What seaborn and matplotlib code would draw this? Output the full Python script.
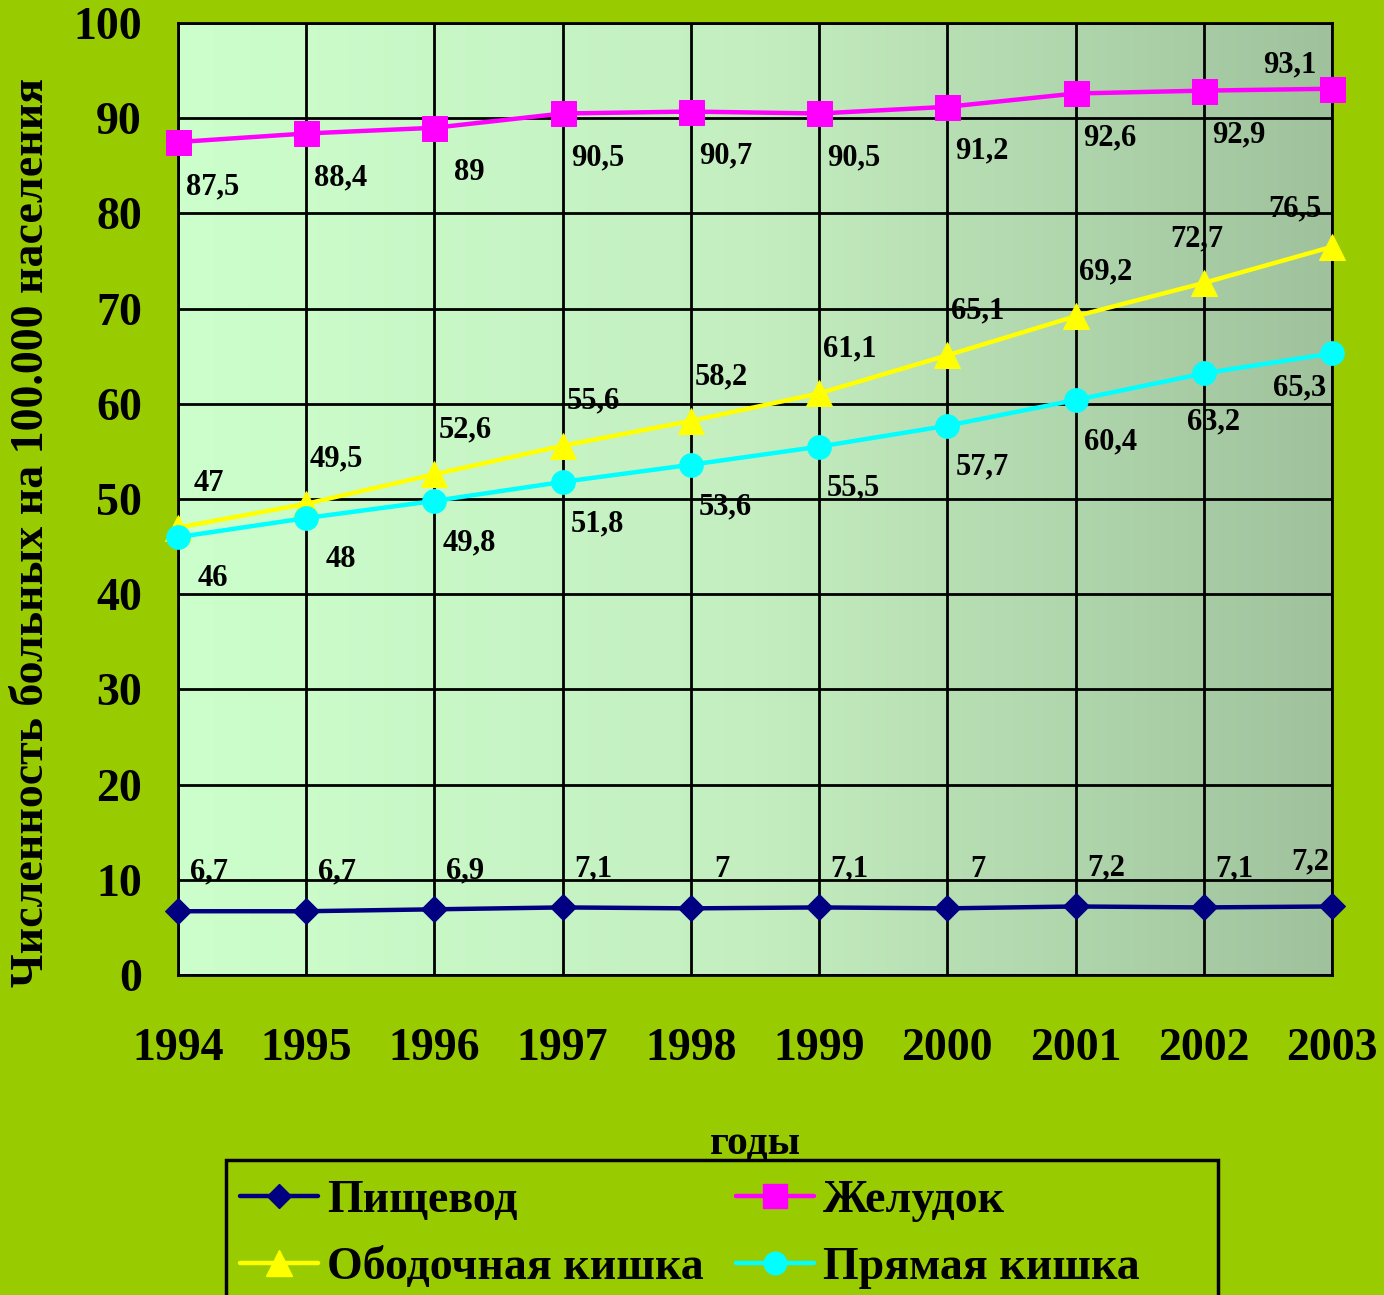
"""Incidence per 100,000 population, 1994-2003 (line chart)."""

import matplotlib

matplotlib.use("Agg")
import matplotlib.pyplot as plt
import numpy as np
import pandas as pd
import seaborn as sns
from matplotlib.colors import LinearSegmentedColormap
from matplotlib.lines import Line2D
from matplotlib.patches import Rectangle

years = [1994, 1995, 1996, 1997, 1998, 1999, 2000, 2001, 2002, 2003]
esophagus = [6.7, 6.7, 6.9, 7.1, 7.0, 7.1, 7.0, 7.2, 7.1, 7.2]
stomach = [87.5, 88.4, 89.0, 90.5, 90.7, 90.5, 91.2, 92.6, 92.9, 93.1]
colon = [47.0, 49.5, 52.6, 55.6, 58.2, 61.1, 65.1, 69.2, 72.7, 76.5]
rectum = [46.0, 48.0, 49.8, 51.8, 53.6, 55.5, 57.7, 60.4, 63.2, 65.3]
series_names = ["Пищевод", "Желудок", "Ободочная кишка", "Прямая кишка"]

BG = "#99CC00"

# style per series: color, marker, marker size, default label offset (points)
styles = {
    "Пищевод": ("#000080", "D", 13, (22, 28)),
    "Желудок": ("#FF00FF", "s", 18, (25, -32)),
    "Ободочная кишка": ("#FFFF00", "^", 19, (22, 32)),
    "Прямая кишка": ("#00FFFF", "o", 17, (25, -30)),
}
# labels near the right edge sit elsewhere
label_shift = {
    ("Пищевод", 2003): (-16, 32),
    ("Желудок", 2003): (-30, 17),
    ("Ободочная кишка", 2002): (-5, 32),
    ("Ободочная кишка", 2003): (-27, 27),
    ("Прямая кишка", 2002): (7, -35),
    ("Прямая кишка", 2003): (-23, -25),
}

df = pd.DataFrame(
    {
        "year": years * 4,
        "value": esophagus + stomach + colon + rectum,
        "site": [n for n in series_names for _ in years],
    }
)

sns.set_style("white")
plt.rcParams["font.family"] = ["Liberation Serif", "DejaVu Serif"]
plt.rcParams["font.weight"] = "bold"
for key in ["text.color", "axes.labelcolor", "xtick.color", "ytick.color"]:
    plt.rcParams[key] = "black"

fig = plt.figure(figsize=(13.84, 12.95), dpi=100, facecolor=BG)
ax = fig.add_axes([0.1286, 0.2471, 0.8338, 0.7351])

# plot area gradient
cmap = LinearSegmentedColormap.from_list("bg", ["#CCFFCC", "#C4EEC0", "#9FC29C"])
grad = np.linspace(0, 1, 256).reshape(1, -1)
ax.imshow(grad, extent=[1994, 2003, 0, 100], aspect="auto", cmap=cmap, zorder=0)

for name in series_names:
    color, marker, msize, _ = styles[name]
    sub = df[df["site"] == name]
    sns.lineplot(
        data=sub, x="year", y="value", ax=ax, color=color, marker=marker,
        markersize=msize, markeredgecolor=color, linewidth=3.2, zorder=3,
        clip_on=False, legend=False,
    )

for name in series_names:
    sub = df[df["site"] == name]
    for yr, val in zip(sub["year"], sub["value"]):
        off = label_shift.get((name, yr), styles[name][3])
        txt = f"{val:g}".replace(".", ",")
        ax.annotate(txt, (yr, val), xytext=off, textcoords="offset points",
                    ha="center", va="center", fontsize=22, fontweight="bold",
                    color="black", zorder=4)

ax.set_xlim(1994, 2003)
ax.set_ylim(0, 100)
ax.set_xticks(years)
ax.set_yticks(range(0, 101, 10))
ax.grid(True, color="black", linewidth=2)
ax.set_axisbelow(False)
for sp in ax.spines.values():
    sp.set_color("black")
    sp.set_linewidth(2)
ax.tick_params(axis="both", direction="out", length=11, width=2, color="black",
               labelsize=33)
ax.tick_params(axis="x", pad=27)
ax.tick_params(axis="y", pad=15)
for lab in ax.get_xticklabels() + ax.get_yticklabels():
    lab.set_fontweight("bold")

ax.set_xlabel("годы", fontsize=30, fontweight="bold")
ax.xaxis.set_label_coords(0.5, -0.158)
ax.set_ylabel("")
fig.text(32 / 1384, 1 - 532 / 1295, "Численность больных на 100.000 населения",
         rotation=90, ha="center", va="center", fontsize=33, fontweight="bold")

# legend box (runs past the bottom edge as in the source)
fig.patches.append(Rectangle((0.1633, -0.05), 0.7168, 0.1542,
                             transform=fig.transFigure, fill=False,
                             edgecolor="black", linewidth=2.5))
order = ["Пищевод", "Ободочная кишка", "Желудок", "Прямая кишка"]
handles = [
    Line2D([], [], color=styles[n][0], marker=styles[n][1],
           markersize=styles[n][2] * 0.95, markeredgecolor=styles[n][0],
           linewidth=3.2)
    for n in order
]
fig.legend(handles, order, loc="upper left", ncol=2,
           bbox_to_anchor=(240 / 1384, 1 - 1180 / 1295), frameon=False,
           prop={"size": 33, "weight": "bold"}, handlelength=1.7,
           handletextpad=0.2, columnspacing=0.7, borderaxespad=0,
           borderpad=0, labelspacing=0.55)

fig.savefig("out.png", dpi=100, facecolor=BG)
plt.close(fig)
